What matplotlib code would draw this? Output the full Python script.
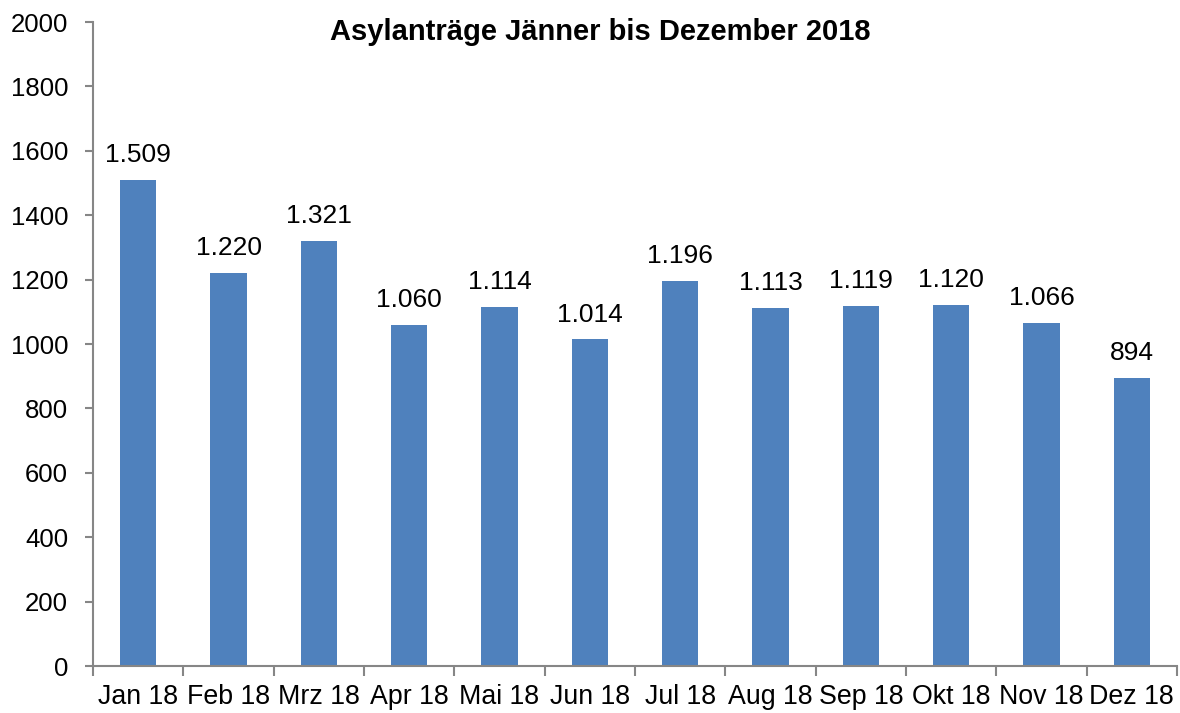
import matplotlib
matplotlib.use("Agg")
import matplotlib.pyplot as plt
import numpy as np

categories = ["Jan 18", "Feb 18", "Mrz 18", "Apr 18", "Mai 18", "Jun 18",
              "Jul 18", "Aug 18", "Sep 18", "Okt 18", "Nov 18", "Dez 18"]
values = [1509, 1220, 1321, 1060, 1114, 1014, 1196, 1113, 1119, 1120, 1066, 894]
title = "Asylanträge Jänner bis Dezember 2018"

plt.rcParams['font.family'] = ['Liberation Sans', 'DejaVu Sans']

fig = plt.figure(figsize=(11.8, 7.13), dpi=100)
ax = fig.add_axes([93/1180, 47/713, (1177-93)/1180, (666-22)/713])

x = np.arange(len(categories))
ax.bar(x, values, width=0.4, color="#4F81BD", zorder=2)

for xi, v in zip(x, values):
    lbl = f"{v:,}".replace(",", ".")
    ax.text(xi, v + 40, lbl, ha="center", va="bottom", fontsize=19, color="black")

ax.set_xlim(-0.5, len(categories) - 0.5)
ax.set_ylim(0, 2000)
ax.set_yticks(np.arange(0, 2001, 200))
ax.tick_params(axis="y", labelsize=18.5, length=6, width=1.5, color="#868686", pad=12)

ax.set_xticks(x)
ax.set_xticklabels(categories)
ax.set_xticks(np.arange(-0.5, len(categories), 1), minor=True)
ax.tick_params(axis="x", which="major", length=0, labelsize=19.3, pad=13)
ax.tick_params(axis="x", which="minor", length=7, width=1.5, color="#868686")

for s in ["top", "right"]:
    ax.spines[s].set_visible(False)
for s in ["left", "bottom"]:
    ax.spines[s].set_color("#868686")
    ax.spines[s].set_linewidth(1.5)

fig.text(600/1180, 1 - 32/713, title, ha="center", va="center",
         fontsize=21, fontweight="bold")

fig.savefig("out.png", dpi=100)
